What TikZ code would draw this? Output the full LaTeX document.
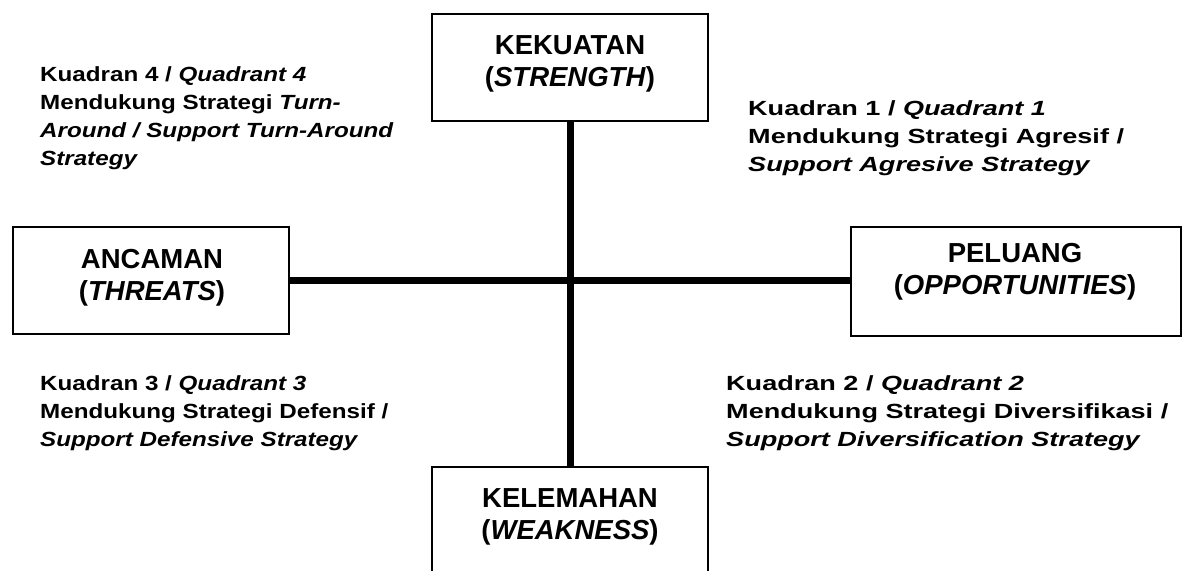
\documentclass[tikz,border=0pt]{standalone}
\usepackage{fontspec}
\setmainfont{Liberation Sans}
\newfontfamily\quadfontA[FakeStretch=1.32]{Liberation Sans}
\newfontfamily\quadfontB[FakeStretch=1.18]{Liberation Sans}
\begin{document}
\begin{tikzpicture}[x=1pt,y=-1pt,
  box/.style={draw=black, line width=2.5pt, fill=white, rectangle, inner sep=0pt},
  boxtext/.style={align=center, anchor=north, inner sep=0pt, font=\fontsize{27.5}{32}\selectfont\bfseries},
  quadtext/.style={align=left, anchor=north west, inner sep=0pt},
  quadA/.style={quadtext, font=\quadfontA\fontsize{20.5}{28}\selectfont\bfseries},
  quadB/.style={quadtext, font=\quadfontB\fontsize{20.5}{28}\selectfont\bfseries},
  cross/.style={line width=7pt}]
\useasboundingbox (0,0) rectangle (1182,570);
% boxes
\node[box, minimum width=276pt, minimum height=107pt] (kek) at (570,67.5) {};
\node[box, minimum width=276pt, minimum height=107pt] (anc) at (151,280.5) {};
\node[box, minimum width=330pt, minimum height=109pt] (pel) at (1016,281.5) {};
\node[box, minimum width=276pt, minimum height=113pt] (kel) at (570,523.5) {};
% cross
\draw[cross] (kek.south) -- (kel.north);
\draw[cross] (anc.east) -- (anc.east -| pel.west);
% box labels
\node[boxtext] (kekt) at (570,35) {KEKUATAN\\(\textit{STRENGTH})};
\node[boxtext] (anct) at (152,249) {ANCAMAN\\(\textit{THREATS})};
\node[boxtext] (pelt) at (1015,243) {PELUANG\\(\textit{OPPORTUNITIES})};
\node[boxtext] (kelt) at (570,488) {KELEMAHAN\\(\textit{WEAKNESS})};
% quadrant texts
\node[quadB] (q4) at (40,66) {Kuadran 4 / \textit{Quadrant 4}\\Mendukung Strategi \textit{Turn-}\\\textit{Around / Support Turn-Around}\\\textit{Strategy}};
\node[quadA] (q1) at (748,100) {Kuadran 1 / \textit{Quadrant 1}\\Mendukung Strategi Agresif /\\\textit{Support Agresive Strategy}};
\node[quadB] (q3) at (40,375) {Kuadran 3 / \textit{Quadrant 3}\\Mendukung Strategi Defensif /\\\textit{Support Defensive Strategy}};
\node[quadA] (q2) at (726,375) {Kuadran 2 / \textit{Quadrant 2}\\Mendukung Strategi Diversifikasi /\\\textit{Support Diversification Strategy}};
\end{tikzpicture}
\end{document}
